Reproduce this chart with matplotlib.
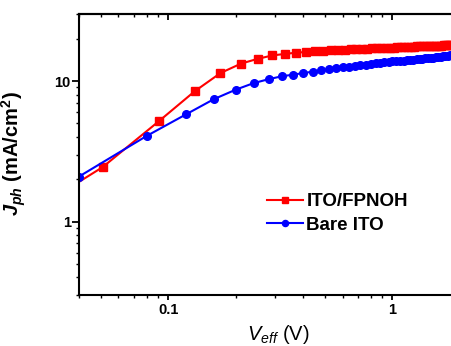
import matplotlib
matplotlib.use("Agg")
import matplotlib.pyplot as plt
from matplotlib.ticker import LogLocator, NullFormatter, FixedLocator, FixedFormatter

plt.rcParams['font.family'] = ['Liberation Sans', 'DejaVu Sans']
plt.rcParams['mathtext.fontset'] = 'custom'
plt.rcParams['mathtext.rm'] = 'Liberation Sans'
plt.rcParams['mathtext.it'] = 'Liberation Sans:italic'
plt.rcParams['mathtext.bf'] = 'Liberation Sans:bold'
plt.rcParams['mathtext.bfit'] = 'Liberation Sans:bold:italic'

# ITO/FPNOH (red squares)
v_fpnoh = [0.011, 0.051, 0.091, 0.131, 0.171, 0.211, 0.251, 0.291, 0.331, 0.371,
           0.411, 0.451, 0.491, 0.531, 0.571, 0.611, 0.651, 0.691, 0.731, 0.771,
           0.811, 0.851, 0.891, 0.931, 0.971, 1.011, 1.051, 1.091, 1.131, 1.171,
           1.211, 1.251, 1.291, 1.331, 1.371, 1.411, 1.451, 1.491, 1.531, 1.571,
           1.611, 1.651, 1.691, 1.731, 1.771, 1.811, 1.851, 1.891, 1.931, 1.971]
j_fpnoh = [0.53, 2.44, 5.19, 8.44, 11.4, 13.3, 14.4, 15.2, 15.6, 15.9,
           16.1, 16.3, 16.4, 16.5, 16.6, 16.7, 16.8, 16.85, 16.9, 17.0,
           17.05, 17.1, 17.15, 17.2, 17.25, 17.3, 17.35, 17.4, 17.45, 17.5,
           17.55, 17.6, 17.62, 17.65, 17.7, 17.72, 17.75, 17.8, 17.82, 17.85,
           17.88, 17.9, 17.92, 17.95, 17.98, 18.0, 18.02, 18.05, 18.08, 18.1]

# Bare ITO (blue circles)
v_bare = [0.04, 0.08, 0.12, 0.16, 0.20, 0.24, 0.28, 0.32, 0.36, 0.40,
          0.44, 0.48, 0.52, 0.56, 0.60, 0.64, 0.68, 0.72, 0.76, 0.80,
          0.84, 0.88, 0.92, 0.96, 1.00, 1.04, 1.08, 1.12, 1.16, 1.20,
          1.24, 1.28, 1.32, 1.36, 1.40, 1.44, 1.48, 1.52, 1.56, 1.60,
          1.64, 1.68, 1.72, 1.76, 1.80, 1.84, 1.88, 1.92, 1.96, 2.00]
j_bare = [2.09, 4.06, 5.79, 7.44, 8.68, 9.66, 10.3, 10.8, 11.1, 11.4,
          11.65, 11.9, 12.1, 12.3, 12.5, 12.65, 12.8, 12.95, 13.1, 13.2,
          13.35, 13.45, 13.55, 13.7, 13.8, 13.87, 13.95, 14.0, 14.08, 14.15,
          14.22, 14.3, 14.36, 14.43, 14.5, 14.58, 14.64, 14.7, 14.78, 14.85,
          14.92, 15.0, 15.06, 15.13, 15.2, 15.27, 15.33, 15.4, 15.47, 15.54]

x_ticks = [0.1, 1]
x_ticklabels = ['0.1', '1']
y_ticks = [1, 10]
y_ticklabels = ['1', '10']

fig = plt.figure(figsize=(4.51, 3.46), dpi=100)
ax = fig.add_axes([79/451, 51/346, 381/451, 281/346])

ax.plot(v_fpnoh, j_fpnoh, color='#ff0000', marker='s', markersize=5.3, lw=1.5,
        label='ITO/FPNOH')
ax.plot(v_bare, j_bare, color='#0000ff', marker='o', markersize=5.5, lw=1.5,
        label='Bare ITO')

ax.set_xscale('log')
ax.set_yscale('log')
ax.set_xlim(0.04, 2)
ax.set_ylim(0.3, 30)

ax.xaxis.set_major_locator(FixedLocator(x_ticks))
ax.xaxis.set_major_formatter(FixedFormatter(x_ticklabels))
ax.yaxis.set_major_locator(FixedLocator(y_ticks))
ax.yaxis.set_major_formatter(FixedFormatter(y_ticklabels))
ax.xaxis.set_minor_locator(LogLocator(base=10, subs=range(2, 10)))
ax.yaxis.set_minor_locator(LogLocator(base=10, subs=range(2, 10)))
ax.xaxis.set_minor_formatter(NullFormatter())
ax.yaxis.set_minor_formatter(NullFormatter())

for s in ax.spines.values():
    s.set_linewidth(1.5)
ax.spines['right'].set_visible(False)

ax.tick_params(axis='x', which='major', direction='out', length=3.5, width=1.3,
               labelsize=10.5, pad=2)
ax.tick_params(axis='x', which='minor', direction='out', length=2.0, width=1.0)
ax.tick_params(axis='y', which='major', direction='out', length=5, width=1.3,
               labelsize=10.5, pad=1)
ax.tick_params(axis='y', which='minor', direction='out', length=2.5, width=1.0)
for lab in ax.get_xticklabels() + ax.get_yticklabels():
    lab.set_fontweight('bold')

# top ticks pointing inward
sec = ax.secondary_xaxis('top')
sec.set_xscale('log')
sec.xaxis.set_major_locator(FixedLocator(x_ticks))
sec.xaxis.set_minor_locator(LogLocator(base=10, subs=range(2, 10)))
sec.tick_params(which='major', direction='in', length=4, width=1.3, labeltop=False)
sec.tick_params(which='minor', direction='in', length=2.2, width=1.0, labeltop=False)
sec.spines['top'].set_linewidth(1.5)

ax.set_xlabel(r'$V_{eff}$ (V)', fontsize=14.5)
ax.xaxis.set_label_coords(0.522, -0.098)
ax.set_ylabel(r'$\mathbfit{J}_{\mathbfit{ph}}$ (mA/cm$^{\mathbf{2}}$)', fontsize=14.5,
              fontweight='bold')
ax.yaxis.set_label_coords(-0.135, 0.505)

leg = ax.legend(loc='upper left', bbox_to_anchor=(267/451, 1 - 193/346),
                bbox_transform=fig.transFigure, frameon=False,
                prop={'weight': 'bold', 'size': 13.5}, handlelength=1.9,
                handletextpad=0.2, labelspacing=0.35, borderpad=0, borderaxespad=0,
                markerscale=0.8)

fig.savefig('out.png', dpi=100)
